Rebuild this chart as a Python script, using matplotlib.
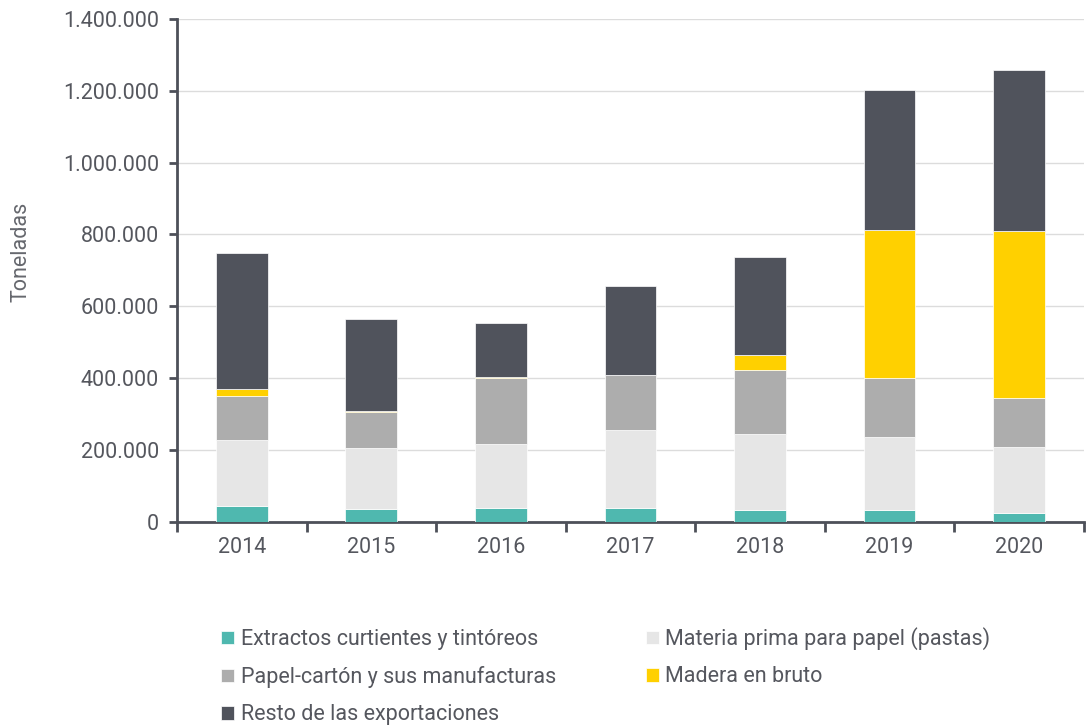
import numpy as np
import matplotlib
matplotlib.use("Agg")
import matplotlib.pyplot as plt
from matplotlib.ticker import FuncFormatter, FixedLocator

plt.rcParams['font.family'] = ['Roboto', 'DejaVu Sans']

years = ['2014', '2015', '2016', '2017', '2018', '2019', '2020']

# toneladas por grupo de producto
extractos = [43500, 35000, 40000, 40000, 34000, 33000, 25000]
materia_prima = [185000, 171000, 176000, 216000, 211000, 203000, 185000]
papel_carton = [123000, 100000, 186000, 152000, 179000, 166000, 134000]
madera = [18000, 3000, 2000, 2000, 40000, 411000, 465000]
resto = [379000, 256000, 151000, 248000, 273000, 388000, 448000]

series = [
    ('Extractos curtientes y tintóreos', extractos, '#4fb8af'),
    ('Materia prima para papel (pastas)', materia_prima, '#e6e6e6'),
    ('Papel-cartón y sus manufacturas', papel_carton, '#adadad'),
    ('Madera en bruto', madera, '#ffd000'),
    ('Resto de las exportaciones', resto, '#50535c'),
]

text_color = '#55575e'
axis_color = '#4d5059'
fs = 15.5

fig = plt.figure(figsize=(10.86, 7.26), dpi=100)
ax = fig.add_axes([0.163, 0.281, 0.835, 0.693])

x = np.arange(len(years))
bottom = np.zeros(len(years))
handles = {}
for name, vals, color in series:
    vals = np.array(vals, dtype=float)
    b = ax.bar(x, vals, width=0.4, bottom=bottom, color=color,
               edgecolor='white', linewidth=0.5, label=name, zorder=3)
    handles[name] = b
    bottom += vals

ax.set_xlim(-0.5, len(years) - 0.5)
ax.set_ylim(0, 1400000)
ax.set_yticks(np.arange(0, 1400001, 200000))
ax.yaxis.set_major_formatter(FuncFormatter(lambda v, p: f"{int(v):,}".replace(',', '.')))
ax.grid(axis='y', color='#dcdcdc', linewidth=1, zorder=0)

ax.set_xticks(x)
ax.set_xticklabels(years)
ax.xaxis.set_minor_locator(FixedLocator(np.arange(-0.5, len(years), 1.0)))
ax.tick_params(axis='x', which='major', length=0, pad=11, labelsize=fs, labelcolor=text_color)
ax.tick_params(axis='x', which='minor', length=7, width=2, color=axis_color)
ax.tick_params(axis='y', length=6, width=2, color=axis_color, pad=7,
               labelsize=fs, labelcolor=text_color)

for side in ['top', 'right']:
    ax.spines[side].set_visible(False)
for side in ['left', 'bottom']:
    ax.spines[side].set_color(axis_color)
    ax.spines[side].set_linewidth(2)

ax.set_ylabel('Toneladas', fontsize=fs, color='#66686e')
ax.yaxis.set_label_coords(-0.160, 0.537)

order = ['Extractos curtientes y tintóreos', 'Papel-cartón y sus manufacturas',
         'Resto de las exportaciones', 'Materia prima para papel (pastas)',
         'Madera en bruto']
fig.legend([handles[n] for n in order], order, ncol=2, loc='upper left',
           bbox_to_anchor=(0.196, 0.148), frameon=False, fontsize=fs,
           handlelength=0.6, handleheight=0.6, handletextpad=0.3,
           columnspacing=4.18, labelspacing=0.75, labelcolor=text_color,
           borderaxespad=0)

fig.savefig('out.png', dpi=100)
